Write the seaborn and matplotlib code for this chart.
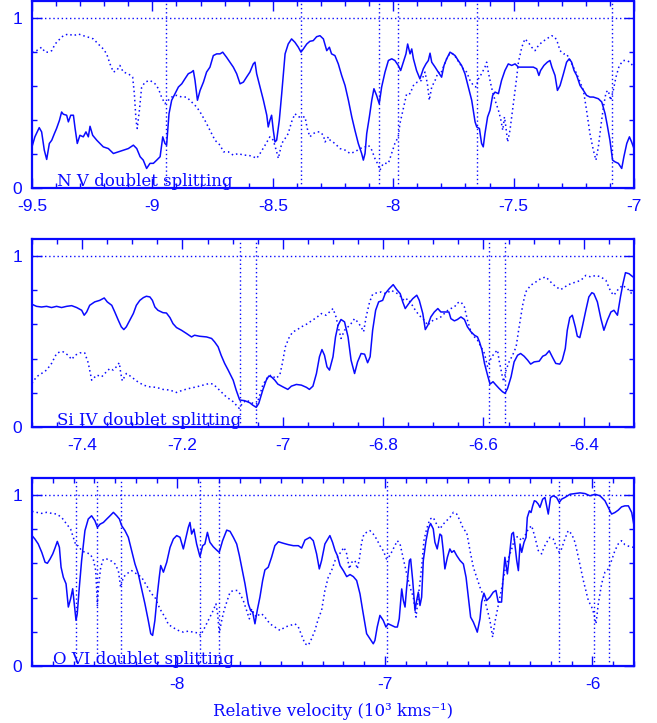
import matplotlib
matplotlib.use("Agg")
import matplotlib.pyplot as plt
from matplotlib.ticker import MultipleLocator, FixedLocator, FuncFormatter
import seaborn as sns

# ---------------- N V doublet ----------------
nv_vel_solid = [
    -9.500, -9.488, -9.470, -9.460, -9.449, -9.439, -9.428, -9.418, -9.407, -9.398,
    -9.386, -9.377, -9.370, -9.356, -9.349, -9.339, -9.328, -9.321, -9.312, -9.301,
    -9.287, -9.276, -9.266, -9.259, -9.248, -9.231, -9.218, -9.204, -9.183, -9.162,
    -9.141, -9.121, -9.100, -9.079, -9.065, -9.051, -9.038, -9.024, -9.010, -8.996,
    -8.982, -8.968, -8.957, -8.948, -8.941, -8.931, -8.920, -8.906, -8.892, -8.878,
    -8.865, -8.851, -8.837, -8.830, -8.823, -8.813, -8.802, -8.788, -8.775, -8.761,
    -8.747, -8.733, -8.719, -8.708, -8.692, -8.678, -8.664, -8.650, -8.636, -8.622,
    -8.609, -8.595, -8.581, -8.574, -8.567, -8.553, -8.539, -8.525, -8.519, -8.512,
    -8.505, -8.498, -8.491, -8.484, -8.473, -8.463, -8.449, -8.436, -8.422, -8.408,
    -8.394, -8.383, -8.373, -8.359, -8.346, -8.332, -8.318, -8.304,
    -8.290, -8.276, -8.265, -8.256, -8.242, -8.228, -8.214, -8.200, -8.186, -8.172,
    -8.159, -8.145, -8.131, -8.124, -8.117, -8.110, -8.099, -8.089, -8.080, -8.069,
    -8.058, -8.048, -8.034, -8.020, -8.006, -7.993, -7.979, -7.969, -7.958, -7.947,
    -7.940, -7.930, -7.923, -7.916, -7.903, -7.889, -7.875, -7.864, -7.854, -7.847,
    -7.840, -7.826, -7.813, -7.799, -7.789, -7.778, -7.764, -7.753, -7.743, -7.730,
    -7.716, -7.702, -7.688, -7.674, -7.660, -7.653, -7.642, -7.633, -7.626, -7.619,
    -7.608, -7.598, -7.587, -7.577, -7.563, -7.550, -7.536, -7.522, -7.508, -7.494,
    -7.480, -7.460, -7.439, -7.418, -7.404, -7.395, -7.388, -7.374, -7.360, -7.349,
    -7.341, -7.328, -7.318, -7.307, -7.293, -7.280, -7.269, -7.259, -7.249, -7.238,
    -7.224, -7.210, -7.197, -7.183, -7.169, -7.148, -7.134, -7.120, -7.111, -7.100,
    -7.089, -7.079, -7.065, -7.051, -7.042, -7.030, -7.019, -7.010, -7.000,
]
nv_flux_solid = [
    0.242, 0.301, 0.355, 0.330, 0.223, 0.168, 0.262, 0.281, 0.320, 0.350,
    0.398, 0.447, 0.434, 0.428, 0.389, 0.428, 0.428, 0.350, 0.262, 0.310,
    0.301, 0.330, 0.301, 0.363, 0.310, 0.281, 0.262, 0.242, 0.232, 0.203,
    0.213, 0.223, 0.232, 0.252, 0.232, 0.184, 0.164, 0.115, 0.145, 0.145,
    0.164, 0.184, 0.301, 0.262, 0.252, 0.437, 0.516, 0.555, 0.594, 0.613,
    0.642, 0.672, 0.682, 0.691, 0.633, 0.516, 0.574, 0.623, 0.682, 0.711,
    0.779, 0.789, 0.789, 0.799, 0.769, 0.740, 0.711, 0.672, 0.613, 0.623,
    0.652, 0.682, 0.730, 0.740, 0.672, 0.594, 0.516, 0.428, 0.359, 0.398,
    0.428, 0.340, 0.271, 0.281, 0.398, 0.555, 0.789, 0.847, 0.877, 0.857,
    0.828, 0.799, 0.818, 0.847, 0.863, 0.867, 0.890, 0.896,
    0.877, 0.808, 0.828, 0.789, 0.779, 0.730, 0.662, 0.603, 0.516, 0.418,
    0.340, 0.262, 0.203, 0.164, 0.203, 0.320, 0.418, 0.516, 0.584, 0.545,
    0.496, 0.594, 0.682, 0.750, 0.760, 0.750, 0.721, 0.691, 0.740, 0.789,
    0.847, 0.789, 0.818, 0.760, 0.691, 0.642, 0.701, 0.730, 0.750, 0.793,
    0.740, 0.711, 0.682, 0.652, 0.721, 0.760, 0.799, 0.789, 0.779, 0.750,
    0.721, 0.672, 0.594, 0.516, 0.389, 0.359, 0.350, 0.262, 0.242, 0.320,
    0.418, 0.457, 0.545, 0.564, 0.555, 0.633, 0.691, 0.730, 0.721, 0.730,
    0.711, 0.711, 0.711, 0.711, 0.701, 0.662, 0.691, 0.721, 0.740, 0.750,
    0.711, 0.662, 0.574, 0.603, 0.672, 0.740, 0.760, 0.740, 0.691, 0.662,
    0.603, 0.574, 0.545, 0.535, 0.535, 0.525, 0.506, 0.437, 0.369, 0.281,
    0.164, 0.154, 0.145, 0.115, 0.184, 0.262, 0.301, 0.271, 0.232,
]
nv_vel_dotted = [
    -9.500, -9.481, -9.460, -9.446, -9.432, -9.418, -9.404, -9.391, -9.370, -9.349,
    -9.328, -9.308, -9.287, -9.266, -9.245, -9.225, -9.204, -9.190, -9.176, -9.162,
    -9.148, -9.135, -9.121, -9.100, -9.082, -9.075, -9.068, -9.063, -9.054, -9.045,
    -9.031, -9.010, -8.989, -8.975, -8.962, -8.948, -8.934, -8.920, -8.899, -8.878,
    -8.858, -8.837, -8.816, -8.802, -8.782, -8.761, -8.740, -8.719, -8.705, -8.685,
    -8.664, -8.643, -8.622, -8.602, -8.581, -8.567, -8.553, -8.532, -8.512, -8.498,
    -8.484, -8.477, -8.463, -8.449, -8.436, -8.422, -8.408, -8.394, -8.380, -8.366,
    -8.357, -8.346, -8.332, -8.318, -8.304, -8.290, -8.283, -8.269,
    -8.262, -8.242, -8.221, -8.200, -8.179, -8.159, -8.138, -8.117, -8.103, -8.089,
    -8.076, -8.062, -8.055, -8.041, -8.020, -8.011, -7.993, -7.979, -7.972, -7.958,
    -7.944, -7.930, -7.916, -7.900, -7.882, -7.868, -7.858, -7.850, -7.840, -7.826,
    -7.813, -7.803, -7.792, -7.778, -7.764, -7.750, -7.736, -7.723, -7.709, -7.695,
    -7.681, -7.667, -7.656, -7.646, -7.633, -7.619, -7.612, -7.605, -7.595, -7.587,
    -7.577, -7.563, -7.554, -7.545, -7.538, -7.532, -7.525, -7.515, -7.508, -7.501,
    -7.494, -7.487, -7.480, -7.466, -7.453, -7.439, -7.425, -7.411, -7.397, -7.383,
    -7.363, -7.342, -7.328, -7.318, -7.307, -7.293, -7.280, -7.269, -7.252, -7.238,
    -7.224, -7.210, -7.197, -7.183, -7.169, -7.158, -7.148, -7.138, -7.127, -7.116,
    -7.107, -7.097, -7.086, -7.075, -7.061, -7.044, -7.030, -7.017, -7.000,
]
nv_flux_dotted = [
    0.799, 0.808, 0.828, 0.799, 0.799, 0.808, 0.847, 0.867, 0.896, 0.906,
    0.896, 0.906, 0.896, 0.887, 0.877, 0.847, 0.818, 0.789, 0.730, 0.682,
    0.691, 0.721, 0.682, 0.672, 0.652, 0.555, 0.398, 0.350, 0.457, 0.590,
    0.623, 0.633, 0.613, 0.584, 0.535, 0.496, 0.516, 0.535, 0.545, 0.535,
    0.535, 0.506, 0.476, 0.447, 0.398, 0.340, 0.281, 0.252, 0.213, 0.213,
    0.193, 0.203, 0.193, 0.193, 0.184, 0.174, 0.203, 0.252, 0.301, 0.281,
    0.213, 0.174, 0.262, 0.291, 0.320, 0.389, 0.437, 0.418, 0.418, 0.418,
    0.350, 0.301, 0.320, 0.330, 0.330, 0.310, 0.271, 0.301,
    0.281, 0.262, 0.232, 0.223, 0.203, 0.213, 0.232, 0.242, 0.252, 0.223,
    0.174, 0.135, 0.105, 0.145, 0.145, 0.184, 0.262, 0.301, 0.379, 0.467,
    0.555, 0.555, 0.603, 0.623, 0.633, 0.682, 0.613, 0.516, 0.594, 0.633,
    0.682, 0.672, 0.711, 0.760, 0.793, 0.789, 0.760, 0.730, 0.701, 0.682,
    0.633, 0.603, 0.594, 0.642, 0.672, 0.711, 0.740, 0.682, 0.613, 0.564,
    0.516, 0.457, 0.408, 0.340, 0.418, 0.359, 0.271, 0.340, 0.418, 0.496,
    0.574, 0.652, 0.740, 0.828, 0.877, 0.857, 0.828, 0.808, 0.838, 0.857,
    0.877, 0.896, 0.887, 0.857, 0.808, 0.789, 0.789, 0.760, 0.711, 0.672,
    0.623, 0.574, 0.457, 0.320, 0.223, 0.164, 0.242, 0.359, 0.476, 0.564,
    0.574, 0.516, 0.574, 0.652, 0.721, 0.750, 0.750, 0.740, 0.711,
]
nv_markers = [-8.944, -8.383, -8.059, -7.980, -7.652, -7.091]

# ---------------- Si IV doublet ----------------
si_vel_solid = [
    -7.500, -7.491, -7.481, -7.471, -7.461, -7.451, -7.441, -7.431, -7.421, -7.411,
    -7.401, -7.396, -7.391, -7.385, -7.375, -7.365, -7.356, -7.350, -7.341, -7.335,
    -7.328, -7.322, -7.317, -7.312, -7.305, -7.298, -7.292, -7.285, -7.278, -7.272,
    -7.265, -7.260, -7.255, -7.249, -7.239, -7.232, -7.225, -7.219, -7.212, -7.202,
    -7.192, -7.182, -7.176, -7.166, -7.152, -7.142, -7.136, -7.129, -7.123, -7.116,
    -7.109, -7.099, -7.093, -7.086, -7.076, -7.066, -7.060, -7.053, -7.048, -7.040,
    -7.033, -7.028, -7.023, -7.016, -7.010, -7.000, -6.990, -6.983, -6.973, -6.963,
    -6.953, -6.947, -6.940, -6.933, -6.927, -6.922,
    -6.917, -6.912, -6.907, -6.900, -6.895, -6.890, -6.884, -6.877, -6.870, -6.864,
    -6.857, -6.851, -6.844, -6.837, -6.831, -6.826, -6.821, -6.815, -6.809, -6.801,
    -6.796, -6.788, -6.780, -6.773, -6.766, -6.761, -6.756, -6.749, -6.741, -6.733,
    -6.728, -6.721, -6.716, -6.711, -6.705, -6.698, -6.691, -6.685, -6.676, -6.669,
    -6.665, -6.658, -6.652, -6.645, -6.638, -6.632, -6.625, -6.618, -6.612, -6.608,
    -6.603, -6.598, -6.592, -6.587, -6.581, -6.575, -6.569, -6.562, -6.557, -6.552,
    -6.545, -6.539, -6.532, -6.526, -6.519, -6.512, -6.506, -6.499, -6.489, -6.482,
    -6.476, -6.469, -6.463, -6.456, -6.448, -6.443, -6.437, -6.433, -6.428, -6.423,
    -6.417, -6.413, -6.408, -6.403, -6.396, -6.390, -6.384, -6.380, -6.373, -6.366,
    -6.360, -6.353, -6.346, -6.340, -6.333, -6.327, -6.322, -6.317, -6.310, -6.302,
]
si_flux_solid = [
    0.718, 0.706, 0.702, 0.706, 0.699, 0.706, 0.699, 0.706, 0.710, 0.699,
    0.683, 0.654, 0.673, 0.712, 0.732, 0.741, 0.755, 0.732, 0.712, 0.673,
    0.625, 0.586, 0.570, 0.586, 0.625, 0.664, 0.712, 0.741, 0.757, 0.765,
    0.761, 0.741, 0.702, 0.683, 0.669, 0.667, 0.640, 0.605, 0.582, 0.566,
    0.547, 0.527, 0.537, 0.531, 0.527, 0.518, 0.498, 0.469, 0.420, 0.372,
    0.333, 0.274, 0.216, 0.158, 0.154, 0.142, 0.128, 0.115, 0.138, 0.216,
    0.274, 0.298, 0.294, 0.274, 0.251, 0.235, 0.220, 0.239, 0.249, 0.245,
    0.232, 0.220, 0.239, 0.313, 0.411, 0.453,
    0.420, 0.352, 0.333, 0.411, 0.527, 0.595, 0.629, 0.615, 0.527, 0.391,
    0.313, 0.381, 0.430, 0.426, 0.376, 0.411, 0.566, 0.683, 0.732, 0.741,
    0.780, 0.809, 0.833, 0.804, 0.780, 0.732, 0.693, 0.722, 0.751, 0.771,
    0.741, 0.664, 0.570, 0.595, 0.644, 0.673, 0.693, 0.673, 0.673, 0.673,
    0.634, 0.621, 0.629, 0.644, 0.629, 0.586, 0.557, 0.537, 0.527, 0.498,
    0.450, 0.372, 0.304, 0.251, 0.265, 0.245, 0.226, 0.206, 0.197, 0.226,
    0.294, 0.381, 0.420, 0.430, 0.414, 0.391, 0.368, 0.381, 0.385, 0.414,
    0.422, 0.446, 0.411, 0.372, 0.368, 0.391, 0.459, 0.566, 0.640, 0.654,
    0.586, 0.531, 0.523, 0.586, 0.683, 0.761, 0.786, 0.780, 0.732, 0.634,
    0.566, 0.625, 0.673, 0.683, 0.654, 0.761, 0.839, 0.903, 0.897, 0.878,
]
si_vel_dotted = [
    -7.500, -7.491, -7.481, -7.471, -7.461, -7.451, -7.444, -7.438, -7.428, -7.421,
    -7.414, -7.404, -7.395, -7.388, -7.381, -7.371, -7.361, -7.355, -7.345, -7.338,
    -7.332, -7.326, -7.323, -7.320, -7.312, -7.302, -7.292, -7.278, -7.265, -7.252,
    -7.239, -7.225, -7.212, -7.199, -7.186, -7.172, -7.159, -7.146, -7.139, -7.133,
    -7.123, -7.113, -7.099, -7.087, -7.083, -7.073, -7.063, -7.053, -7.048, -7.040,
    -7.030, -7.023, -7.014, -7.006, -7.001, -6.995, -6.987, -6.980, -6.973, -6.963,
    -6.953, -6.943, -6.933, -6.923,
    -6.914, -6.907, -6.900, -6.894, -6.888, -6.884, -6.877, -6.870, -6.864, -6.857,
    -6.851, -6.844, -6.839, -6.834, -6.827, -6.821, -6.814, -6.804, -6.794, -6.784,
    -6.778, -6.771, -6.764, -6.758, -6.751, -6.744, -6.738, -6.731, -6.725, -6.718,
    -6.711, -6.705, -6.698, -6.691, -6.685, -6.678, -6.671, -6.665, -6.658, -6.652,
    -6.645, -6.638, -6.632, -6.625, -6.618, -6.612, -6.605, -6.598, -6.592, -6.585,
    -6.579, -6.572, -6.569, -6.563, -6.560, -6.555, -6.549, -6.542, -6.535, -6.530,
    -6.522, -6.516, -6.506, -6.496, -6.486, -6.476, -6.469, -6.463, -6.455, -6.446,
    -6.436, -6.426, -6.416, -6.406, -6.396, -6.386, -6.376, -6.366, -6.356, -6.346,
    -6.340, -6.333, -6.323, -6.313, -6.302,
]
si_flux_dotted = [
    0.255, 0.294, 0.313, 0.333, 0.372, 0.430, 0.440, 0.440, 0.420, 0.395,
    0.420, 0.434, 0.434, 0.376, 0.274, 0.304, 0.294, 0.313, 0.342, 0.333,
    0.352, 0.376, 0.313, 0.270, 0.313, 0.294, 0.270, 0.245, 0.235, 0.232,
    0.220, 0.216, 0.202, 0.216, 0.226, 0.235, 0.245, 0.255, 0.251, 0.235,
    0.206, 0.177, 0.148, 0.109, 0.128, 0.158, 0.142, 0.134, 0.167, 0.245,
    0.294, 0.304, 0.284, 0.304, 0.372, 0.469, 0.527, 0.557, 0.566, 0.586,
    0.601, 0.621, 0.640, 0.664,
    0.654, 0.673, 0.693, 0.644, 0.566, 0.518, 0.566, 0.586, 0.605, 0.634,
    0.615, 0.586, 0.557, 0.644, 0.732, 0.776, 0.784, 0.790, 0.780, 0.800,
    0.790, 0.780, 0.761, 0.738, 0.751, 0.722, 0.693, 0.664, 0.644, 0.625,
    0.595, 0.615, 0.629, 0.634, 0.644, 0.664, 0.683, 0.693, 0.702, 0.726,
    0.732, 0.702, 0.625, 0.557, 0.527, 0.508, 0.469, 0.430, 0.352, 0.401,
    0.430, 0.450, 0.391, 0.304, 0.265, 0.333, 0.381, 0.420, 0.469, 0.566,
    0.712, 0.790, 0.829, 0.848, 0.868, 0.878, 0.858, 0.839, 0.819, 0.804,
    0.823, 0.839, 0.848, 0.858, 0.887, 0.878, 0.887, 0.878, 0.858, 0.790,
    0.771, 0.800, 0.829, 0.809, 0.771,
]
si_markers = [-7.086, -7.053, -6.590, -6.558]

# ---------------- O VI doublet ----------------
ov_vel_solid = [
    -8.700, -8.686, -8.670, -8.653, -8.637, -8.626, -8.613, -8.600, -8.589, -8.578,
    -8.568, -8.560, -8.549, -8.536, -8.525, -8.514, -8.504, -8.498, -8.488, -8.482,
    -8.472, -8.461, -8.445, -8.429, -8.413, -8.397, -8.385, -8.372, -8.356, -8.340,
    -8.324, -8.308, -8.292, -8.279, -8.268, -8.252, -8.236, -8.220, -8.204, -8.188,
    -8.172, -8.156, -8.140, -8.128, -8.119, -8.108, -8.096, -8.087, -8.080, -8.067,
    -8.051, -8.035, -8.019, -8.003, -7.987, -7.971, -7.958, -7.947, -7.939, -7.931,
    -7.920, -7.907, -7.891, -7.878, -7.867, -7.855, -7.843, -7.827, -7.811, -7.798,
    -7.782, -7.762, -7.746, -7.730, -7.714, -7.701, -7.690, -7.674, -7.658, -7.647,
    -7.637, -7.626, -7.615, -7.602, -7.589, -7.578, -7.562, -7.546, -7.530, -7.513,
    -7.489, -7.465, -7.441, -7.417, -7.401, -7.385, -7.361, -7.345, -7.329, -7.316,
    -7.305, -7.289, -7.265,
    -7.252, -7.240, -7.229, -7.216, -7.200, -7.184, -7.168, -7.152, -7.136, -7.120,
    -7.107, -7.096, -7.088, -7.072, -7.056, -7.048, -7.037, -7.024, -7.008, -6.995,
    -6.984, -6.968, -6.951, -6.940, -6.931, -6.919, -6.911, -6.903, -6.895, -6.882,
    -6.876, -6.866, -6.855, -6.847, -6.839, -6.831, -6.823, -6.815, -6.802, -6.791,
    -6.780, -6.767, -6.759, -6.748, -6.735, -6.727, -6.719, -6.711, -6.699, -6.687,
    -6.678, -6.667, -6.654, -6.638, -6.622, -6.609, -6.598, -6.587, -6.574, -6.561,
    -6.555, -6.542, -6.534, -6.523, -6.510, -6.494, -6.478, -6.465, -6.454, -6.438,
    -6.430, -6.422, -6.410, -6.401, -6.389, -6.381, -6.373, -6.365, -6.357, -6.349,
    -6.341, -6.330, -6.320, -6.314, -6.304, -6.296, -6.288, -6.280, -6.272, -6.261,
    -6.253, -6.240, -6.229, -6.213, -6.202, -6.189, -6.173, -6.160, -6.149, -6.133,
    -6.108, -6.084, -6.060, -6.036, -6.012, -5.988, -5.964, -5.940, -5.924, -5.908,
    -5.892, -5.876, -5.860, -5.844, -5.827, -5.811, -5.800,
]
ov_flux_solid = [
    0.763, 0.743, 0.714, 0.665, 0.607, 0.601, 0.626, 0.656, 0.691, 0.729,
    0.694, 0.578, 0.519, 0.481, 0.345, 0.393, 0.452, 0.384, 0.267, 0.306,
    0.461, 0.617, 0.792, 0.860, 0.879, 0.850, 0.811, 0.830, 0.840, 0.860,
    0.879, 0.899, 0.879, 0.860, 0.821, 0.792, 0.753, 0.675, 0.597, 0.539,
    0.451, 0.364, 0.267, 0.189, 0.179, 0.267, 0.422, 0.519, 0.588, 0.549,
    0.607, 0.694, 0.743, 0.763, 0.753, 0.685, 0.753, 0.811, 0.840, 0.772,
    0.801, 0.714, 0.640, 0.704, 0.714, 0.782, 0.724, 0.698, 0.679, 0.665,
    0.733, 0.795, 0.788, 0.753, 0.714, 0.646, 0.578, 0.481, 0.364, 0.325,
    0.315, 0.247, 0.325, 0.403, 0.500, 0.562, 0.578, 0.636, 0.704, 0.727,
    0.718, 0.710, 0.704, 0.704, 0.690, 0.737, 0.753, 0.733, 0.656, 0.568,
    0.617, 0.714, 0.763,
    0.723, 0.675, 0.646, 0.588, 0.558, 0.523, 0.535, 0.523, 0.500, 0.422,
    0.325, 0.247, 0.189, 0.160, 0.130, 0.150, 0.228, 0.296, 0.267, 0.228,
    0.247, 0.238, 0.228, 0.228, 0.276, 0.451, 0.383, 0.345, 0.461, 0.617,
    0.626, 0.500, 0.325, 0.383, 0.432, 0.354, 0.403, 0.617, 0.733, 0.802,
    0.834, 0.802, 0.724, 0.685, 0.772, 0.763, 0.675, 0.568, 0.636, 0.685,
    0.665, 0.675, 0.646, 0.617, 0.597, 0.519, 0.403, 0.286, 0.257, 0.218,
    0.198, 0.276, 0.374, 0.426, 0.383, 0.403, 0.432, 0.442, 0.374, 0.374,
    0.519, 0.636, 0.539, 0.636, 0.772, 0.782, 0.704, 0.617, 0.558, 0.714,
    0.665, 0.723, 0.753, 0.869, 0.908, 0.898, 0.937, 0.967, 0.963, 0.947,
    0.928, 0.976, 0.986, 0.889, 0.986, 0.996, 0.986, 0.957, 0.976, 0.986,
    1.005, 1.009, 1.013, 1.009, 0.996, 1.005, 0.996, 0.967, 0.928, 0.889,
    0.898, 0.912, 0.931, 0.937, 0.937, 0.898, 0.821,
]
ov_vel_dotted = [
    -8.700, -8.678, -8.653, -8.629, -8.605, -8.581, -8.557, -8.533, -8.514, -8.501,
    -8.488, -8.477, -8.461, -8.445, -8.421, -8.405, -8.393, -8.385, -8.379, -8.369,
    -8.356, -8.340, -8.316, -8.300, -8.284, -8.273, -8.260, -8.244, -8.220, -8.196,
    -8.172, -8.148, -8.124, -8.108, -8.091, -8.075, -8.059, -8.043, -8.019, -7.995,
    -7.971, -7.947, -7.923, -7.899, -7.888, -7.875, -7.859, -7.843, -7.827, -7.814,
    -7.806, -7.798, -7.786, -7.775, -7.762, -7.746, -7.730, -7.711, -7.698, -7.682,
    -7.666, -7.653, -7.642, -7.631, -7.618, -7.605, -7.594, -7.578, -7.554, -7.530,
    -7.505, -7.481, -7.457, -7.433, -7.417, -7.401, -7.385, -7.369, -7.353, -7.337,
    -7.321, -7.305, -7.289, -7.273,
    -7.257, -7.240, -7.224, -7.208, -7.197, -7.184, -7.171, -7.160, -7.144, -7.133,
    -7.123, -7.112, -7.101, -7.088, -7.072, -7.056, -7.040, -7.024, -7.008, -6.992,
    -6.976, -6.960, -6.940, -6.927, -6.911, -6.895, -6.879, -6.863, -6.850, -6.839,
    -6.823, -6.812, -6.799, -6.783, -6.767, -6.751, -6.735, -6.719, -6.703, -6.687,
    -6.670, -6.654, -6.638, -6.622, -6.606, -6.590, -6.574, -6.558, -6.542, -6.526,
    -6.510, -6.494, -6.481, -6.470, -6.454, -6.438, -6.422, -6.406, -6.389, -6.373,
    -6.357, -6.341, -6.325, -6.309, -6.293, -6.277, -6.261, -6.245, -6.234, -6.221,
    -6.205, -6.189, -6.173, -6.160, -6.149, -6.133, -6.117, -6.100, -6.084, -6.068,
    -6.044, -6.020, -6.004, -5.993, -5.983, -5.972, -5.956, -5.940, -5.924, -5.908,
    -5.892, -5.876, -5.860, -5.844, -5.820, -5.800,
]
ov_flux_dotted = [
    0.905, 0.899, 0.893, 0.899, 0.893, 0.889, 0.869, 0.830, 0.801, 0.753,
    0.704, 0.704, 0.675, 0.665, 0.656, 0.626, 0.558, 0.354, 0.471, 0.578,
    0.626, 0.626, 0.613, 0.597, 0.558, 0.461, 0.519, 0.539, 0.558, 0.539,
    0.519, 0.471, 0.422, 0.403, 0.354, 0.315, 0.286, 0.243, 0.224, 0.208,
    0.198, 0.204, 0.198, 0.193, 0.179, 0.208, 0.247, 0.286, 0.325, 0.364,
    0.306, 0.193, 0.267, 0.325, 0.374, 0.432, 0.442, 0.442, 0.422, 0.383,
    0.325, 0.276, 0.335, 0.306, 0.286, 0.302, 0.306, 0.286, 0.247, 0.228,
    0.208, 0.228, 0.237, 0.247, 0.228, 0.179, 0.130, 0.121, 0.160, 0.208,
    0.276, 0.325, 0.442, 0.519,
    0.558, 0.617, 0.646, 0.675, 0.694, 0.656, 0.568, 0.607, 0.617, 0.568,
    0.626, 0.723, 0.772, 0.782, 0.792, 0.772, 0.743, 0.704, 0.675, 0.626,
    0.646, 0.685, 0.733, 0.714, 0.626, 0.539, 0.461, 0.403, 0.286, 0.403,
    0.578, 0.733, 0.802, 0.860, 0.869, 0.830, 0.802, 0.830, 0.850, 0.869,
    0.899, 0.889, 0.850, 0.802, 0.782, 0.675, 0.578, 0.519, 0.461, 0.413,
    0.345, 0.267, 0.169, 0.257, 0.354, 0.451, 0.558, 0.626, 0.685, 0.753,
    0.757, 0.733, 0.763, 0.802, 0.821, 0.753, 0.675, 0.656, 0.694, 0.723,
    0.753, 0.743, 0.694, 0.665, 0.685, 0.743, 0.792, 0.772, 0.723, 0.636,
    0.500, 0.383, 0.345, 0.306, 0.247, 0.364, 0.481, 0.549, 0.568, 0.617,
    0.675, 0.714, 0.733, 0.710, 0.698, 0.694,
]
ov_markers = [-8.488, -8.386, -8.273, -7.891, -7.799, -6.989, -6.160, -5.993, -5.922]

panel_labels = ["N V doublet splitting", "Si IV doublet splitting", "O VI doublet splitting"]
x_title = "Relative velocity (10\u00b3 kms\u207b\u00b9)"

# ---------------- styling ----------------
sns.set_style("ticks")
plt.rcParams["font.family"] = ["Liberation Sans", "DejaVu Sans"]
plt.rcParams["axes.unicode_minus"] = False

BLUE = "#0a0aff"
DOTS = (0, (1.0, 2.0))
SERIF = ["DejaVu Serif", "Liberation Serif"]

W, H = 657, 723
fig = plt.figure(figsize=(W / 100, H / 100), dpi=100)
fig.patch.set_facecolor("white")


def rect(top_px, bottom_px, left_px=32, right_px=634):
    return [left_px / W, 1 - bottom_px / H, (right_px - left_px) / W, (bottom_px - top_px) / H]


panels = [
    dict(vs=nv_vel_solid, fs=nv_flux_solid, vd=nv_vel_dotted, fd=nv_flux_dotted,
         marks=nv_markers, xlim=(-9.5, -7.0), major=0.5, minor=0.1,
         box=rect(1, 188), label=panel_labels[0], lx=0.0415),
    dict(vs=si_vel_solid, fs=si_flux_solid, vd=si_vel_dotted, fd=si_flux_dotted,
         marks=si_markers, xlim=(-7.5, -6.3), major=0.2, minor=0.05,
         box=rect(239, 427), label=panel_labels[1], lx=0.0415),
    dict(vs=ov_vel_solid, fs=ov_flux_solid, vd=ov_vel_dotted, fd=ov_flux_dotted,
         marks=ov_markers, xlim=(-8.7, -5.8), major=1.0, minor=0.1,
         box=rect(478, 666), label=panel_labels[2], lx=0.035),
]

fmt = FuncFormatter(lambda v, pos: f"{v:g}")

for p in panels:
    ax = fig.add_axes(p["box"])
    ax.set_facecolor("white")

    # continuum and line-centre guides
    ax.axhline(1.0, color=BLUE, lw=1.0, linestyle=DOTS, zorder=1)
    for m in p["marks"]:
        ax.axvline(m, color=BLUE, lw=1.0, linestyle=DOTS, zorder=1)

    sns.lineplot(x=p["vs"], y=p["fs"], ax=ax, color=BLUE, lw=1.1,
                 estimator=None, sort=False, legend=False, zorder=3)
    sns.lineplot(x=p["vd"], y=p["fd"], ax=ax, color=BLUE, lw=1.1, linestyle=DOTS,
                 estimator=None, sort=False, legend=False, zorder=2)

    ax.set_xlim(*p["xlim"])
    ax.set_ylim(0, 1.1)
    ax.set_xlabel("")
    ax.set_ylabel("")

    ax.xaxis.set_major_locator(MultipleLocator(p["major"]))
    ax.xaxis.set_minor_locator(MultipleLocator(p["minor"]))
    ax.xaxis.set_major_formatter(fmt)
    ax.yaxis.set_major_locator(FixedLocator([0, 1]))
    ax.yaxis.set_minor_locator(FixedLocator([0.2, 0.4, 0.6, 0.8]))
    ax.yaxis.set_major_formatter(fmt)

    ax.tick_params(which="both", direction="in", top=True, right=True,
                   color=BLUE, labelcolor=BLUE, width=1.0)
    ax.tick_params(which="major", length=7.5, labelsize=12.5)
    ax.tick_params(which="minor", length=3.5)
    ax.tick_params(axis="x", which="major", pad=8)
    ax.tick_params(axis="y", which="major", pad=7)

    for s in ax.spines.values():
        s.set_visible(True)
        s.set_color(BLUE)
        s.set_linewidth(1.6)

    ax.text(p["lx"], 0.012, p["label"], transform=ax.transAxes, ha="left",
            va="baseline", fontsize=12, color=BLUE, family=SERIF, zorder=4)

fig.text(333 / W, 1 - 711 / H, x_title, ha="center", va="center",
         fontsize=12, color=BLUE, family=SERIF)

fig.savefig("out.png", dpi=100, facecolor="white")
